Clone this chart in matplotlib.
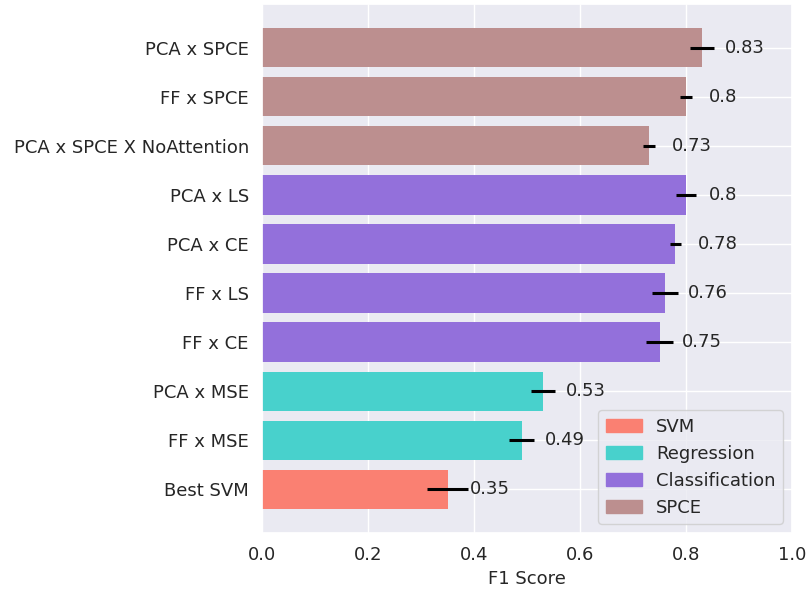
import matplotlib
matplotlib.use("Agg")
import matplotlib.pyplot as plt
import seaborn as sns
from matplotlib.patches import Patch

sns.set_theme(style="darkgrid")
plt.rcParams['font.family'] = ['DejaVu Sans']

# Models, from top to bottom
models = ["PCA x SPCE", "FF x SPCE", "PCA x SPCE X NoAttention",
          "PCA x LS", "PCA x CE", "FF x LS", "FF x CE",
          "PCA x MSE", "FF x MSE", "Best SVM"]
f1_scores = [0.83, 0.80, 0.73, 0.80, 0.78, 0.76, 0.75, 0.53, 0.49, 0.35]
f1_std = [0.023, 0.011, 0.012, 0.019, 0.010, 0.025, 0.026, 0.022, 0.024, 0.039]
groups = ["SPCE", "SPCE", "SPCE", "Classification", "Classification",
          "Classification", "Classification", "Regression", "Regression", "SVM"]
score_labels = ["0.83", "0.8", "0.73", "0.8", "0.78", "0.76", "0.75", "0.53", "0.49", "0.35"]

group_order = ["SVM", "Regression", "Classification", "SPCE"]
group_colors = {"SVM": "salmon", "Regression": "mediumturquoise",
                "Classification": "mediumpurple", "SPCE": "rosybrown"}

fs = 13

fig = plt.figure(figsize=(8.1, 5.92), dpi=100)
ax = fig.add_axes([262 / 810, 1 - 533 / 592, (792 - 262) / 810, (533 - 4) / 592])

ypos = list(range(len(models)))[::-1]
colors = [group_colors[g] for g in groups]
ax.barh(ypos, f1_scores, height=0.8, color=colors, linewidth=0, xerr=f1_std,
        error_kw=dict(ecolor="black", elinewidth=2.2, capsize=0))

for y, v, lab in zip(ypos, f1_scores, score_labels):
    ax.text(v + 0.043, y, lab, va="center", ha="left", fontsize=fs, color="0.15")

ax.set_yticks(ypos)
ax.set_yticklabels(models, fontsize=fs)
ax.set_xlim(0, 1.0)
ax.tick_params(axis="x", labelsize=fs)
ax.set_xlabel("F1 Score", fontsize=fs)

handles = [Patch(color=group_colors[g], label=g) for g in group_order]
ax.legend(handles=handles, loc="lower right", fontsize=fs)

fig.savefig("out.png", dpi=100)
